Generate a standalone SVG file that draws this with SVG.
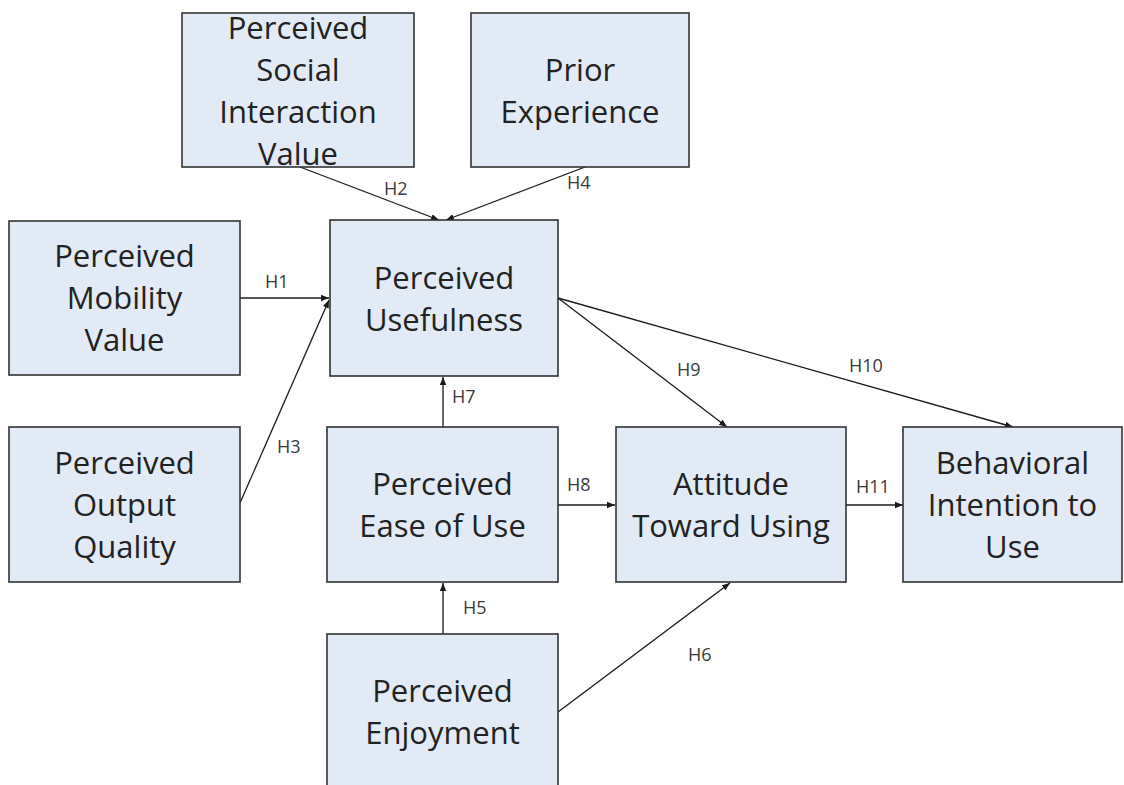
<svg xmlns="http://www.w3.org/2000/svg" width="1124" height="785" viewBox="0 0 1124 785">
  <defs>
    <marker id="arrow" viewBox="0 0 10 10" refX="10" refY="5" markerWidth="8" markerHeight="8" markerUnits="userSpaceOnUse" orient="auto">
      <path d="M0,1 L10,5 L0,9 Z" fill="#1a1a1a"/>
    </marker>
    <style>
      .box { fill: #e2eaf5; stroke: #333333; stroke-width: 1.6; }
      .lbl { font-family: "Open Sans", "Noto Sans", sans-serif; font-size: 31px; fill: #222222; text-anchor: middle; }
      .h { font-family: "Open Sans", "Noto Sans", sans-serif; font-size: 18px; fill: #3a3a3a; }
      .edge { stroke: #1a1a1a; stroke-width: 1.3; fill: none; marker-end: url(#arrow); }
    </style>
  </defs>
  <rect width="1124" height="785" fill="#ffffff"/>

  <!-- connectors and their hypothesis labels -->
  <g id="connectors">
    <line class="edge" x1="240" y1="298" x2="329" y2="298"/>
    <line class="edge" x1="300" y1="167" x2="439" y2="220"/>
    <line class="edge" x1="240" y1="503" x2="329" y2="300"/>
    <line class="edge" x1="585" y1="167" x2="446" y2="220"/>
    <line class="edge" x1="443" y1="634" x2="443" y2="583"/>
    <line class="edge" x1="558" y1="712" x2="730" y2="583"/>
    <line class="edge" x1="443" y1="427" x2="443" y2="377"/>
    <line class="edge" x1="558" y1="505" x2="615" y2="505"/>
    <line class="edge" x1="558" y1="298" x2="727" y2="427"/>
    <line class="edge" x1="558" y1="298" x2="1013" y2="427"/>
    <line class="edge" x1="846" y1="505" x2="903" y2="505"/>
    <text class="h" x="265" y="288">H1</text>
    <text class="h" x="384" y="195">H2</text>
    <text class="h" x="277" y="453">H3</text>
    <text class="h" x="567" y="189">H4</text>
    <text class="h" x="463" y="614">H5</text>
    <text class="h" x="688" y="661">H6</text>
    <text class="h" x="452" y="403">H7</text>
    <text class="h" x="567" y="491">H8</text>
    <text class="h" x="677" y="376">H9</text>
    <text class="h" x="849" y="372">H10</text>
    <text class="h" x="856" y="493">H11</text>
  </g>

  <g id="social-interaction">
    <rect class="box" x="182" y="13" width="232" height="154"/>
    <text class="lbl" x="298" y="39">Perceived</text>
    <text class="lbl" x="298" y="81">Social</text>
    <text class="lbl" x="298" y="123">Interaction</text>
    <text class="lbl" x="298" y="165">Value</text>
  </g>
  <g id="prior-experience">
    <rect class="box" x="471" y="13" width="218" height="154"/>
    <text class="lbl" x="580" y="81">Prior</text>
    <text class="lbl" x="580" y="123">Experience</text>
  </g>
  <g id="mobility-value">
    <rect class="box" x="9" y="221" width="231" height="154"/>
    <text class="lbl" x="124.5" y="267">Perceived</text>
    <text class="lbl" x="124.5" y="309">Mobility</text>
    <text class="lbl" x="124.5" y="351">Value</text>
  </g>
  <g id="usefulness">
    <rect class="box" x="330" y="220" width="228" height="156"/>
    <text class="lbl" x="444" y="289">Perceived</text>
    <text class="lbl" x="444" y="331">Usefulness</text>
  </g>
  <g id="output-quality">
    <rect class="box" x="9" y="427" width="231" height="155"/>
    <text class="lbl" x="124.5" y="474">Perceived</text>
    <text class="lbl" x="124.5" y="516">Output</text>
    <text class="lbl" x="124.5" y="558">Quality</text>
  </g>
  <g id="ease-of-use">
    <rect class="box" x="327" y="427" width="231" height="155"/>
    <text class="lbl" x="442.5" y="495">Perceived</text>
    <text class="lbl" x="442.5" y="537">Ease of Use</text>
  </g>
  <g id="attitude">
    <rect class="box" x="616" y="427" width="230" height="155"/>
    <text class="lbl" x="731" y="495">Attitude</text>
    <text class="lbl" x="731" y="537">Toward Using</text>
  </g>
  <g id="behavioral-intention">
    <rect class="box" x="903" y="427" width="219" height="155"/>
    <text class="lbl" x="1012.5" y="474">Behavioral</text>
    <text class="lbl" x="1012.5" y="516">Intention to</text>
    <text class="lbl" x="1012.5" y="558">Use</text>
  </g>
  <g id="enjoyment">
    <rect class="box" x="327" y="634" width="231" height="160"/>
    <text class="lbl" x="442.5" y="702">Perceived</text>
    <text class="lbl" x="442.5" y="744">Enjoyment</text>
  </g>
</svg>
